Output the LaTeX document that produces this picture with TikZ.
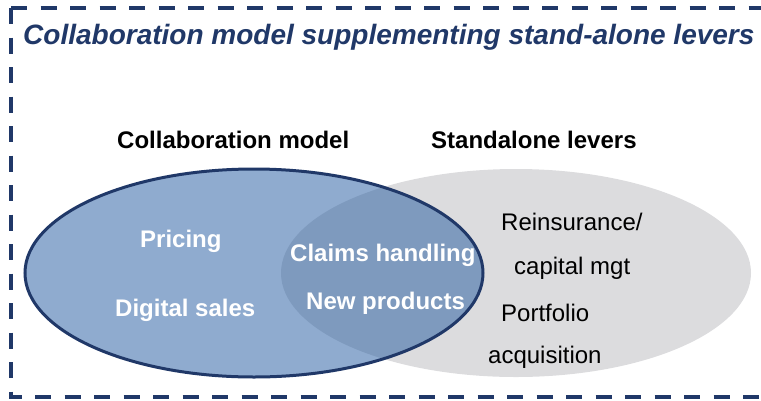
\documentclass[tikz,border=0pt]{standalone}
\usepackage{fontspec}
\setmainfont{Liberation Sans}
\definecolor{navy}{RGB}{32,56,104}
\definecolor{paleblue}{RGB}{143,171,207}
\definecolor{midblue}{RGB}{126,154,190}
\definecolor{lightgrey}{RGB}{220,220,222}
\tikzset{%
	frame/.style    = {navy, line width=3.5pt, dash pattern=on 16pt off 13.5pt},
	headline/.style = {anchor=base west, inner sep=0pt, navy,
		font=\fontsize{28}{32}\selectfont\bfseries\itshape},
	caption/.style  = {anchor=base west, inner sep=0pt,
		font=\fontsize{24}{28}\selectfont\bfseries}, % Set titles
	inside/.style   = {anchor=base west, inner sep=0pt, white,
		font=\fontsize{24}{28}\selectfont\bfseries}, % Collaboration items
	outside/.style  = {anchor=base west, inner sep=0pt,
		font=\fontsize{24}{28}\selectfont} % Standalone items
}

\begin{document}
\begin{tikzpicture}[x=1pt,y=-1pt]
			\useasboundingbox (0,0) rectangle (761,400);
			\clip (0,0) rectangle (761,400);
			
			% dashed frame, open to the right
			\draw[frame] (11,8) -- (790,8);
			\draw[frame] (11,8) -- (11,397) -- (790,397);
			
			\node[headline] (heading) at (23,44) {Collaboration model supplementing stand-alone levers};
			
			% the two sets
			\fill[lightgrey] (516,273) ellipse [x radius=235, y radius=104];
			\fill[paleblue] (254,273) ellipse [x radius=229, y radius=104];
			\begin{scope}
				\clip (254,273) ellipse [x radius=229, y radius=104];
				\fill[midblue] (516,273) ellipse [x radius=235, y radius=104];
			\end{scope}
			\draw[navy, line width=3pt] (254,273) ellipse [x radius=229, y radius=104];
			
			\node[caption] (collabhd) at (117,148) {Collaboration model};
			\node[caption] (standhd) at (431,148) {Standalone levers};
			
			\node[inside] (pricing) at (140,247) {Pricing};
			\node[inside] (digital) at (115,316) {Digital sales};
			\node[inside] (claims) at (290,261) {Claims handling};
			\node[inside] (newprod) at (306,309) {New products};
			
			\node[outside] (reins) at (501,230) {Reinsurance/};
			\node[outside] (capital) at (514,274) {capital mgt};
			\node[outside] (portfolio) at (501,321) {Portfolio};
			\node[outside] (acquis) at (488,363) {acquisition};
		\end{tikzpicture}
\end{document}
